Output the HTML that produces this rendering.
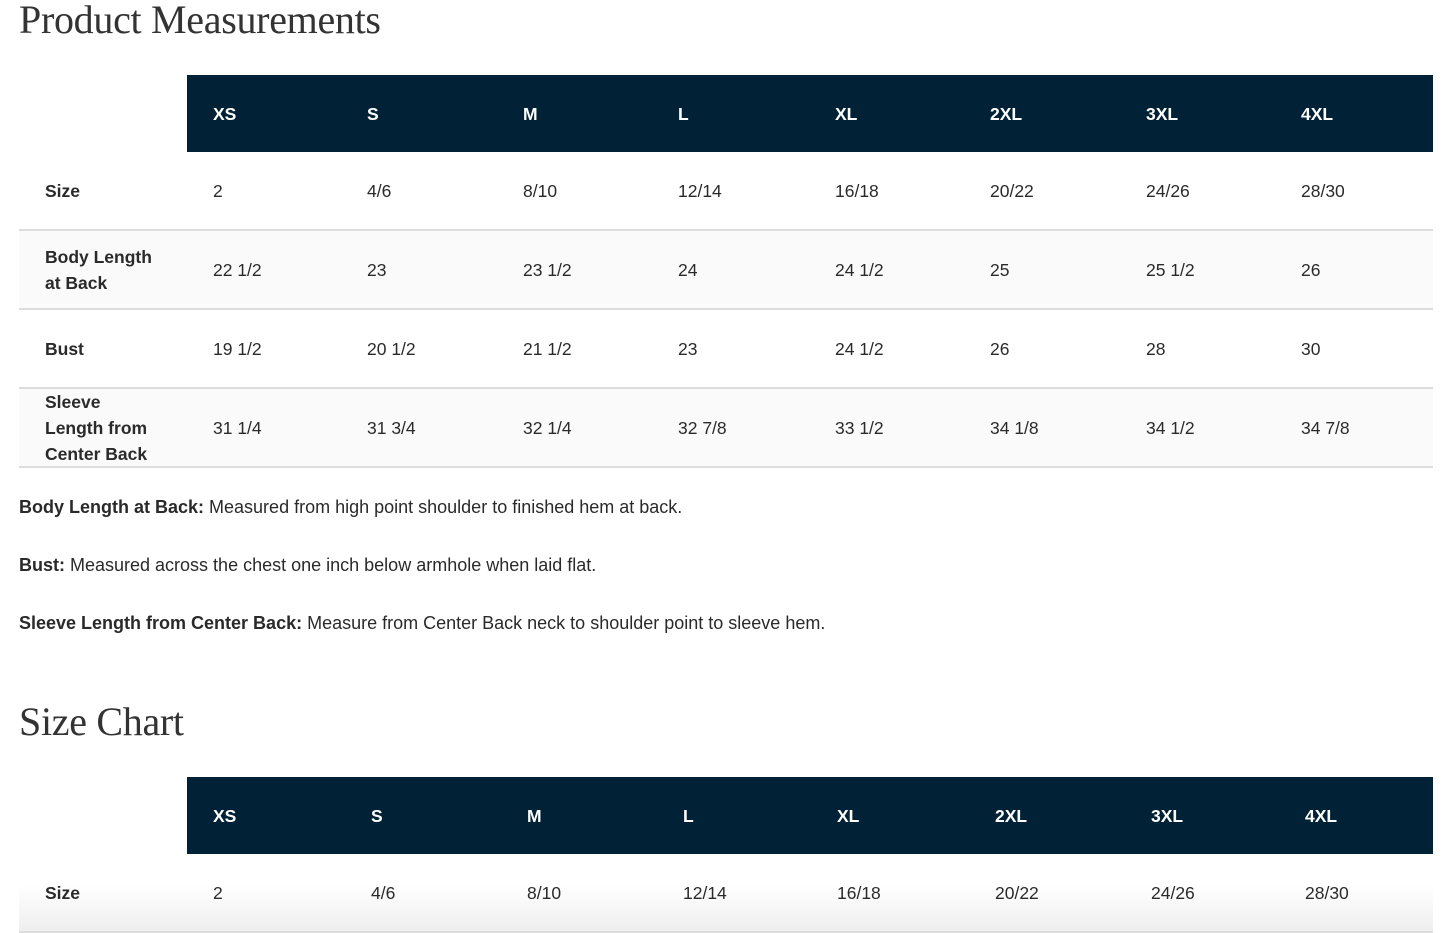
<!DOCTYPE html>
<html><head><meta charset="utf-8"><style>
*{margin:0;padding:0;box-sizing:border-box}
body{width:1445px;height:933px;overflow:hidden;background:#fff;position:relative;font-family:"Liberation Sans",sans-serif;color:#2a2a2a}
h1{position:absolute;left:19px;font-family:"Liberation Serif",serif;font-weight:normal;font-size:40px;color:#333;letter-spacing:-0.3px}
.hd{position:absolute;left:187px;width:1246px;height:77px;background:#012236}
.hd span{position:absolute;top:29px;color:#fff;font-weight:bold;font-size:17.5px}
.row{position:absolute;left:19px;width:1414px;height:79px;border-bottom:2px solid #ddd}
.row span{position:absolute;font-size:17.5px}
.row b{position:absolute;left:26px;font-size:17.5px;line-height:26px}
p{position:absolute;left:19px;font-size:18px;color:#2a2a2a}
</style></head><body>
<h1 style="top:-4px">Product Measurements</h1>
<div class="hd" style="top:75px">
<span style="left:26px">XS</span><span style="left:180px">S</span><span style="left:336px">M</span><span style="left:491px">L</span><span style="left:648px">XL</span><span style="left:803px">2XL</span><span style="left:959px">3XL</span><span style="left:1114px">4XL</span>
</div>
<div class="row" style="top:152px"><b style="top:26px">Size</b>
<span style="left:194px;top:29px">2</span><span style="left:348px;top:29px">4/6</span><span style="left:504px;top:29px">8/10</span><span style="left:659px;top:29px">12/14</span><span style="left:816px;top:29px">16/18</span><span style="left:971px;top:29px">20/22</span><span style="left:1127px;top:29px">24/26</span><span style="left:1282px;top:29px">28/30</span></div>
<div class="row" style="top:231px;background:#fafafa"><b style="top:13px">Body Length<br>at Back</b>
<span style="left:194px;top:29px">22 1/2</span><span style="left:348px;top:29px">23</span><span style="left:504px;top:29px">23 1/2</span><span style="left:659px;top:29px">24</span><span style="left:816px;top:29px">24 1/2</span><span style="left:971px;top:29px">25</span><span style="left:1127px;top:29px">25 1/2</span><span style="left:1282px;top:29px">26</span></div>
<div class="row" style="top:310px"><b style="top:26px">Bust</b>
<span style="left:194px;top:29px">19 1/2</span><span style="left:348px;top:29px">20 1/2</span><span style="left:504px;top:29px">21 1/2</span><span style="left:659px;top:29px">23</span><span style="left:816px;top:29px">24 1/2</span><span style="left:971px;top:29px">26</span><span style="left:1127px;top:29px">28</span><span style="left:1282px;top:29px">30</span></div>
<div class="row" style="top:389px;background:#fafafa"><b style="top:0px">Sleeve<br>Length from<br>Center Back</b>
<span style="left:194px;top:29px">31 1/4</span><span style="left:348px;top:29px">31 3/4</span><span style="left:504px;top:29px">32 1/4</span><span style="left:659px;top:29px">32 7/8</span><span style="left:816px;top:29px">33 1/2</span><span style="left:971px;top:29px">34 1/8</span><span style="left:1127px;top:29px">34 1/2</span><span style="left:1282px;top:29px">34 7/8</span></div>
<p style="top:497px"><b>Body Length at Back:</b> Measured from high point shoulder to finished hem at back.</p>
<p style="top:555px"><b>Bust:</b> Measured across the chest one inch below armhole when laid flat.</p>
<p style="top:613px"><b>Sleeve Length from Center Back:</b> Measure from Center Back neck to shoulder point to sleeve hem.</p>
<h1 style="top:698px">Size Chart</h1>
<div class="hd" style="top:777px">
<span style="left:26px">XS</span><span style="left:184px">S</span><span style="left:340px">M</span><span style="left:496px">L</span><span style="left:650px">XL</span><span style="left:808px">2XL</span><span style="left:964px">3XL</span><span style="left:1118px">4XL</span>
</div>
<div class="row" style="top:854px;background:linear-gradient(#fff 0%,#fff 40%,#eee 100%)"><b style="top:26px">Size</b>
<span style="left:194px;top:29px">2</span><span style="left:352px;top:29px">4/6</span><span style="left:508px;top:29px">8/10</span><span style="left:664px;top:29px">12/14</span><span style="left:818px;top:29px">16/18</span><span style="left:976px;top:29px">20/22</span><span style="left:1132px;top:29px">24/26</span><span style="left:1286px;top:29px">28/30</span></div>
</body></html>
